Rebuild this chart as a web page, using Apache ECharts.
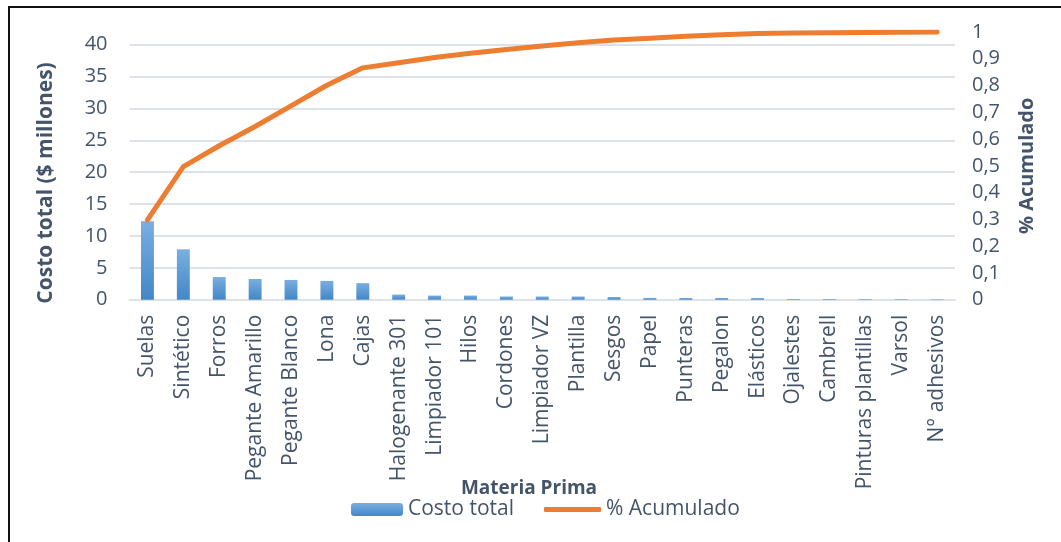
<!DOCTYPE html>
<html>
<head>
<meta charset="utf-8">
<script src="https://cdn.jsdelivr.net/npm/echarts@6/dist/echarts.min.js"></script>
<style>
  html, body { margin: 0; padding: 0; background: #fff; overflow: hidden; }
  #chart { position: absolute; left: 0; top: 0; width: 1061px; height: 542px; }
  #frame { position: absolute; left: 8px; top: 6px; width: 1200px; height: 700px; border: 2px solid #111; pointer-events: none; }
</style>
</head>
<body>
<div id="chart"></div>
<div id="frame"></div>
<script>
const categories = ['Suelas','Sintético','Forros','Pegante Amarillo','Pegante Blanco','Lona','Cajas','Halogenante 301','Limpiador 101','Hilos','Cordones','Limpiador VZ','Plantilla','Sesgos','Papel','Punteras','Pegalon','Elásticos','Ojalestes','Cambrell','Pinturas plantillas','Varsol','N° adhesivos'];
const costoTotal = [12.3, 7.9, 3.55, 3.25, 3.1, 2.95, 2.6, 0.8, 0.65, 0.65, 0.5, 0.5, 0.5, 0.42, 0.28, 0.27, 0.27, 0.26, 0.1, 0.1, 0.09, 0.08, 0.07];
const acumulado = [0.298, 0.497, 0.575, 0.647, 0.724, 0.801, 0.866, 0.885, 0.905, 0.921, 0.935, 0.948, 0.96, 0.97, 0.977, 0.984, 0.99, 0.994, 0.996, 0.997, 0.998, 0.999, 1.0];

const TXT = '#44546A';
const FONT = '"Open Sans", sans-serif';
const GRID = '#DEE2E8';

const chart = echarts.init(document.getElementById('chart'), null, {renderer: 'canvas'});
chart.setOption({
  animation: false,
  textStyle: {fontFamily: FONT, color: TXT},
  grid: {left: 129.5, right: 106, top: 32, bottom: 242.3, containLabel: false},
  legend: [
    {data: ['Costo total'], left: 351, top: 499, padding: 0, itemWidth: 52, itemHeight: 13,
     textStyle: {fontFamily: FONT, fontSize: 21, color: TXT}},
    {data: ['% Acumulado'], left: 544, top: 499, padding: 0, itemWidth: 57, itemHeight: 5, icon: 'roundRect',
     textStyle: {fontFamily: FONT, fontSize: 21, color: TXT}}
  ],
  graphic: [
    {type: 'text', x: 529, y: 489,
     style: {text: 'Materia Prima', font: 'bold 19px ' + FONT, fill: TXT, align: 'center', verticalAlign: 'middle'}},
    {type: 'text', x: 46, y: 183, rotation: Math.PI / 2,
     style: {text: 'Costo total ($ millones)', font: 'bold 21px ' + FONT, fill: TXT, align: 'center', verticalAlign: 'middle'}}
  ],
  xAxis: {
    type: 'category', data: categories,
    axisLine: {show: true, lineStyle: {color: GRID, width: 2}},
    axisTick: {show: false},
    axisLabel: {rotate: 90, interval: 0, margin: 15, fontSize: 21, color: TXT, fontFamily: FONT}
  },
  yAxis: [
    {
      type: 'value', min: 0, max: 42, interval: 5,
      axisLine: {show: false}, axisTick: {show: false},
      axisLabel: {margin: 22, fontSize: 20, color: TXT, fontFamily: FONT, showMaxLabel: false},
      splitLine: {show: true, showMaxLine: false, lineStyle: {color: GRID, width: 2}}
    },
    {
      type: 'value', min: 0, max: 1, interval: 0.1, position: 'right',
      name: '% Acumulado', nameLocation: 'middle', nameGap: 62,
      nameTextStyle: {fontFamily: FONT, fontWeight: 'bold', fontSize: 20, color: TXT},
      axisLine: {show: false}, axisTick: {show: false},
      axisLabel: {margin: 17, fontSize: 20, color: TXT, fontFamily: FONT,
        formatter: v => String(Math.round(v * 10) / 10).replace('.', ',')},
      splitLine: {show: false}
    }
  ],
  series: [
    {
      name: 'Costo total', type: 'bar', yAxisIndex: 0, data: costoTotal, barWidth: '36%',
      itemStyle: {color: new echarts.graphic.LinearGradient(0, 0, 0, 1, [
        {offset: 0, color: '#7AAEE0'}, {offset: 1, color: '#4287C8'}])}
    },
    {
      name: '% Acumulado', type: 'line', yAxisIndex: 1, data: acumulado,
      symbol: 'none', lineStyle: {color: '#ED7D31', width: 5, cap: 'round', join: 'round'},
      itemStyle: {color: '#ED7D31'}
    }
  ]
});
</script>
</body>
</html>
